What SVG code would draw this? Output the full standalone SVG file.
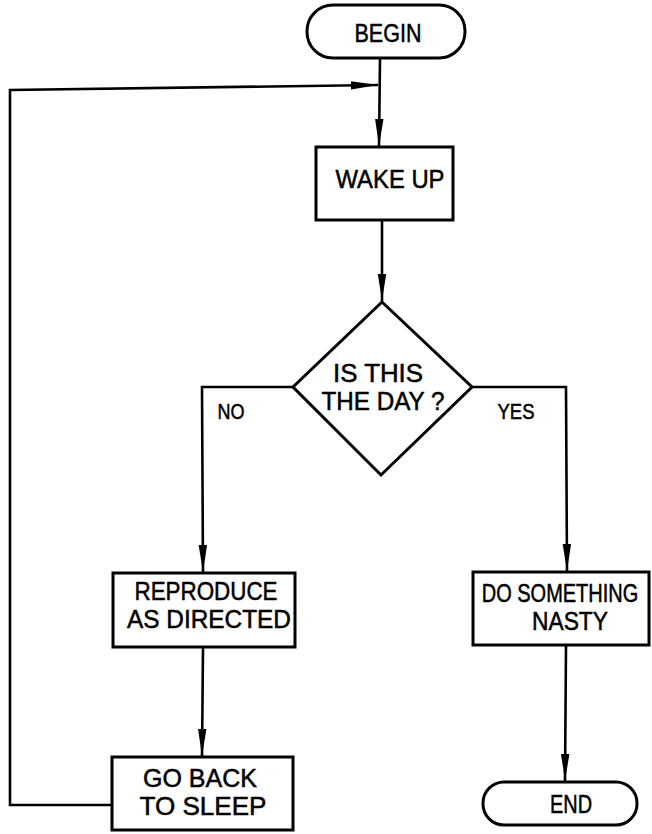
<svg xmlns="http://www.w3.org/2000/svg" width="652" height="834" viewBox="0 0 652 834">
  <style>
    .shape { fill: #fff; stroke: #000; stroke-width: 3; stroke-linejoin: miter; }
    .line { fill: none; stroke: #000; stroke-width: 2.6; stroke-linejoin: miter; }
    .lbl { font-family: "Liberation Sans", "DejaVu Sans", sans-serif; font-size: 25px; fill: #000; stroke: #000; stroke-width: 0.5; text-anchor: middle; }
    .small { font-size: 22px; }
  </style>
  <defs>
    <marker id="arrow" markerUnits="userSpaceOnUse" markerWidth="28" markerHeight="10" viewBox="0 0 28 10" refX="27" refY="5" orient="auto">
      <path d="M0,0.8 L27,5 L0,9.2 Z" fill="#000"/>
    </marker>
  </defs>
  <rect width="652" height="834" fill="#fff"/>

  <g id="connectors">
    <path class="line" d="M380,58 L379,146" marker-end="url(#arrow)"/>
    <path class="line" d="M112,805 L10,805 L10,90 L378,85" marker-end="url(#arrow)"/>
    <path class="line" d="M382,220 L382,301" marker-end="url(#arrow)"/>
    <path class="line" d="M293,387 L202,387 L203,572" marker-end="url(#arrow)"/>
    <path class="line" d="M472,387 L566,387 L567,571" marker-end="url(#arrow)"/>
    <path class="line" d="M203,647 L202,756" marker-end="url(#arrow)"/>
    <path class="line" d="M566,645 L565,781" marker-end="url(#arrow)"/>
  </g>

  <g id="begin">
    <rect class="shape" x="307" y="5" width="158" height="53" rx="26" ry="26"/>
    <text class="lbl" x="388" y="42" textLength="67" lengthAdjust="spacingAndGlyphs">BEGIN</text>
  </g>

  <g id="wake-up">
    <rect class="shape" x="316" y="147" width="137" height="73"/>
    <text class="lbl" x="390" y="188" textLength="109" lengthAdjust="spacingAndGlyphs">WAKE UP</text>
  </g>

  <g id="decision">
    <polygon class="shape" points="382,302 472,387 381,475 293,387"/>
    <text class="lbl" x="378" y="382" textLength="90" lengthAdjust="spacingAndGlyphs">IS THIS</text>
    <text class="lbl" x="383" y="410" textLength="123" lengthAdjust="spacingAndGlyphs">THE DAY ?</text>
  </g>

  <g id="branch-labels">
    <text class="lbl small" x="231" y="419" textLength="27" lengthAdjust="spacingAndGlyphs">NO</text>
    <text class="lbl small" x="516" y="419" textLength="37" lengthAdjust="spacingAndGlyphs">YES</text>
  </g>

  <g id="reproduce">
    <rect class="shape" x="113" y="573" width="182" height="74"/>
    <text class="lbl" x="206" y="600" textLength="143" lengthAdjust="spacingAndGlyphs">REPRODUCE</text>
    <text class="lbl" x="209" y="628" textLength="164" lengthAdjust="spacingAndGlyphs">AS DIRECTED</text>
  </g>

  <g id="do-something">
    <rect class="shape" x="473" y="572" width="176" height="73"/>
    <!-- long first line narrowed horizontally so it sits inside the box -->
    <text class="lbl" transform="translate(560,602) scale(0.8,1)" x="0" y="0">DO SOMETHING</text>
    <text class="lbl" x="570" y="630" textLength="76" lengthAdjust="spacingAndGlyphs">NASTY</text>
  </g>

  <g id="go-back">
    <rect class="shape" x="112" y="757" width="181" height="73"/>
    <text class="lbl" x="200" y="787" textLength="114" lengthAdjust="spacingAndGlyphs">GO BACK</text>
    <text class="lbl" x="203" y="815" textLength="127" lengthAdjust="spacingAndGlyphs">TO SLEEP</text>
  </g>

  <g id="end">
    <rect class="shape" x="483" y="782" width="154" height="43" rx="21" ry="21"/>
    <text class="lbl" x="571" y="813" textLength="42" lengthAdjust="spacingAndGlyphs">END</text>
  </g>
</svg>
